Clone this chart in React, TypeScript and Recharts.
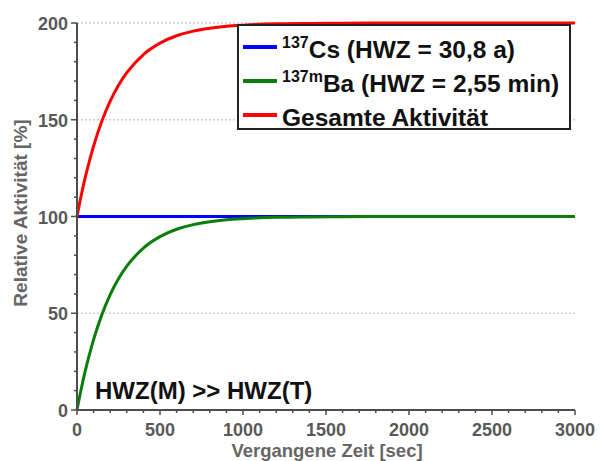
import { CartesianGrid, Customized, Legend, Line, LineChart, ReferenceLine, XAxis, YAxis } from 'recharts';

// time axis (sec) and the three activity curves (%)
const TIMES = [0, 25, 50, 75, 100, 150, 200, 250, 300, 400, 500, 600, 700, 800, 900, 1000, 1200, 1400, 1600, 2000, 2500, 3000];
const CS_137 = [100, 100, 100, 100, 100, 100, 100, 100, 100, 100, 100, 100, 100, 100, 100, 100, 100, 100, 100, 100, 100, 100];
const BA_137M = [0, 10.7, 20.3, 28.8, 36.4, 49.3, 59.6, 67.8, 74.3, 83.7, 89.6, 93.4, 95.8, 97.3, 98.3, 98.9, 99.6, 99.8, 99.9, 100, 100, 100];
const TOTAL = [100, 110.7, 120.3, 128.8, 136.4, 149.3, 159.6, 167.8, 174.3, 183.7, 189.6, 193.4, 195.8, 197.3, 198.3, 198.9, 199.6, 199.8, 199.9, 200, 200, 200];

const X_TICKS = Array.from({ length: 31 }, (_, i) => i * 100);
const Y_TICKS = Array.from({ length: 21 }, (_, i) => i * 10);
const X_LABELS = [0, 500, 1000, 1500, 2000, 2500, 3000];
const Y_LABELS = [0, 50, 100, 150, 200];
const GRID_VALUES = [50, 100, 150, 200];

const SERIES = [
  { key: 'cs', color: '#0000ff', sup: '137', text: 'Cs (HWZ = 30,8 a)' },
  { key: 'ba', color: '#0a7d0a', sup: '137m', text: 'Ba (HWZ = 2,55 min)' },
  { key: 'total', color: '#ff0000', sup: '', text: 'Gesamte Aktivität' },
];

const data = TIMES.map((t, i) => ({ t, cs: CS_137[i], ba: BA_137M[i], total: TOTAL[i] }));

const FONT = '"Liberation Sans", Arial, sans-serif';
const AXIS_COLOR = '#4d4d4d';
const LABEL_COLOR = '#595959';

const YTick = ({ x, y, payload }: any) => {
  const major = Y_LABELS.includes(payload.value);
  return (
    <g>
      <line x1={x - (major ? 6 : 3)} x2={x} y1={y} y2={y} stroke={AXIS_COLOR} strokeWidth={1.5} />
      {major && (
        <text x={x - 9} y={y + 7} textAnchor="end" fontFamily={FONT} fontWeight="bold" fontSize={18} fill={LABEL_COLOR}>
          {payload.value}
        </text>
      )}
    </g>
  );
};

const XTick = ({ x, y, payload }: any) => {
  const major = X_LABELS.includes(payload.value);
  return (
    <g>
      <line x1={x} x2={x} y1={y} y2={y + (major ? 5 : 3)} stroke={AXIS_COLOR} strokeWidth={1.5} />
      {major && (
        <text x={x} y={y + 26} textAnchor="middle" fontFamily={FONT} fontWeight="bold" fontSize={18} fill={LABEL_COLOR}>
          {payload.value}
        </text>
      )}
    </g>
  );
};

const LegendBox = () => (
  <div
    style={{
      boxSizing: 'border-box',
      width: 334,
      height: 106,
      border: '2px solid #222',
      background: '#fff',
      paddingTop: 4,
      fontFamily: FONT,
      fontWeight: 'bold',
      fontSize: 24.5,
      color: '#111',
    }}
  >
    {SERIES.map((s) => (
      <div key={s.key} style={{ display: 'flex', alignItems: 'center', height: 34, whiteSpace: 'nowrap' }}>
        <div style={{ width: 34, height: 4, background: s.color, marginLeft: 4, marginRight: 5 }} />
        <span style={{ position: 'relative', top: 3 }}>
          {s.sup && <span style={{ fontSize: 16, position: 'relative', top: -10 }}>{s.sup}</span>}
          {s.text}
        </span>
      </div>
    ))}
  </div>
);

const Annotations = () => (
  <g fontFamily={FONT} fontWeight="bold">
    <text x={95} y={399} fontSize={24} fill="#111">
      HWZ(M) &gt;&gt; HWZ(T)
    </text>
    <text x={327} y={456.5} textAnchor="middle" fontSize={18.5} fill="#666">
      Vergangene Zeit [sec]
    </text>
    <text x={27} y={213} transform="rotate(-90 27 213)" textAnchor="middle" fontSize={19} fill="#666">
      Relative Aktivität [%]
    </text>
  </g>
);

export default function App() {
  return (
    <div style={{ position: 'absolute', left: 0, top: 0, width: 600, height: 461, background: '#fff' }}>
      <LineChart width={600} height={461} data={data} margin={{ top: 23, right: 25, bottom: 0, left: 0 }}>
        <CartesianGrid stroke="none" />
        {GRID_VALUES.map((v) => (
          <ReferenceLine key={v} y={v} stroke="#cfcfcf" strokeDasharray="2 2" strokeWidth={1.5} />
        ))}
        <XAxis
          dataKey="t"
          type="number"
          domain={[0, 3000]}
          ticks={X_TICKS}
          interval={0}
          tickSize={0}
          tickMargin={0}
          tick={<XTick />}
          height={51}
          axisLine={{ stroke: AXIS_COLOR, strokeWidth: 2 }}
          tickLine={false}
        />
        <YAxis
          type="number"
          domain={[0, 200]}
          ticks={Y_TICKS}
          interval={0}
          tickSize={0}
          tickMargin={0}
          tick={<YTick />}
          width={77}
          axisLine={{ stroke: AXIS_COLOR, strokeWidth: 2 }}
          tickLine={false}
        />
        <Legend
          verticalAlign="middle"
          layout="horizontal"
          content={<LegendBox />}
          wrapperStyle={{ position: 'absolute', left: 237, top: 24, width: 334, height: 106 }}
        />
        <Line type="monotone" dataKey="cs" stroke="#0000ff" strokeWidth={3} dot={false} isAnimationActive={false} />
        <Line type="monotone" dataKey="ba" stroke="#0a7d0a" strokeWidth={3} dot={false} isAnimationActive={false} />
        <Line type="monotone" dataKey="total" stroke="#ff0000" strokeWidth={3} dot={false} isAnimationActive={false} />
        <Customized component={Annotations} />
      </LineChart>
    </div>
  );
}
